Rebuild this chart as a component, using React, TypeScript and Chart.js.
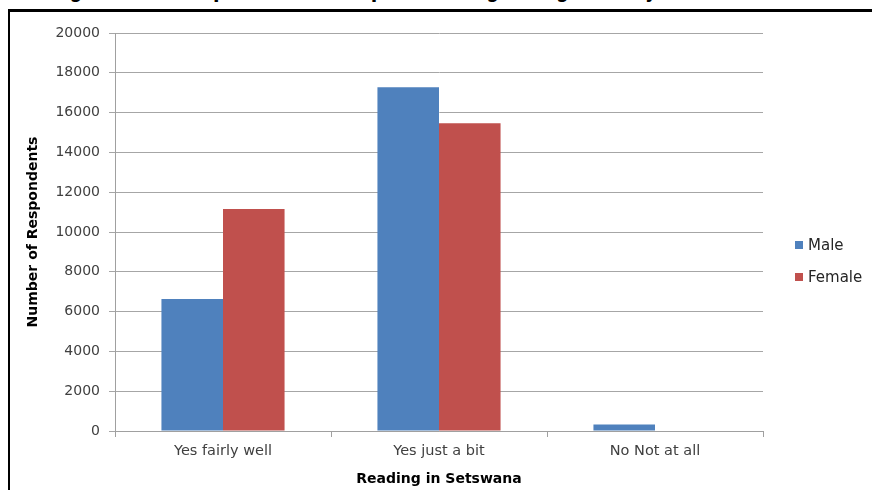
import React, { useEffect, useRef } from "react";
import { Chart, registerables } from "chart.js";

Chart.register(...registerables);

// Responses to "Reading in Setswana", split by sex
const categories = ["Yes fairly well", "Yes just a bit", "No Not at all"];
const maleValues = [6630, 17270, 330];
const femaleValues = [11160, 15460, 0];
const seriesNames = ["Male", "Female"];
const seriesColors = ["#4F81BD", "#C0504D"];
const yTicksMax = 20000;
const yTicksStep = 2000;
const figureTitle = "Figure 4.5: Respondents' competence regarding literacy in Setswana";

const FONT = "'DejaVu Sans', 'Liberation Sans', sans-serif";

export default function App() {
  const canvasRef = useRef<HTMLCanvasElement | null>(null);

  useEffect(() => {
    const canvas = canvasRef.current;
    if (!canvas) return;
    const chart = new Chart(canvas, {
      type: "bar",
      data: {
        labels: categories,
        datasets: [
          {
            label: seriesNames[0],
            data: maleValues,
            backgroundColor: seriesColors[0],
            borderWidth: 0,
            barPercentage: 1,
            categoryPercentage: 0.57,
          },
          {
            label: seriesNames[1],
            data: femaleValues,
            backgroundColor: seriesColors[1],
            borderWidth: 0,
            barPercentage: 1,
            categoryPercentage: 0.57,
          },
        ],
      },
      options: {
        responsive: false,
        animation: false,
        devicePixelRatio: 1,
        layout: { padding: { top: 33, right: 109, left: 0, bottom: 0 } },
        plugins: {
          legend: { display: false },
          title: { display: false },
          tooltip: { enabled: false },
        },
        scales: {
          x: {
            offset: true,
            grid: {
              offset: true,
              drawOnChartArea: false,
              drawTicks: true,
              tickLength: 6,
              color: "#a0a0a0",
            },
            border: { color: "#a0a0a0", width: 1 },
            ticks: {
              color: "#404040",
              font: { family: FONT, size: 14.5 },
              padding: 6,
              maxRotation: 0,
            },
            title: {
              display: true,
              text: "Reading in Setswana",
              color: "#000000",
              font: { family: FONT, size: 14, weight: "bold" },
              padding: { top: 0, bottom: 2 },
            },
            afterFit: (scale: any) => {
              scale.height = 59;
            },
          },
          y: {
            min: 0,
            max: yTicksMax,
            grid: {
              color: "#a6a6a6",
              tickLength: 6,
              drawTicks: true,
            },
            border: { color: "#a0a0a0", width: 1 },
            ticks: {
              stepSize: yTicksStep,
              color: "#404040",
              font: { family: FONT, size: 14 },
              padding: 9,
              callback: (value: any) => String(value),
            },
            title: {
              display: true,
              text: "Number of Respondents",
              color: "#000000",
              font: { family: FONT, size: 14, weight: "bold" },
              padding: { top: 25, bottom: 0 },
            },
            afterFit: (scale: any) => {
              scale.width = 115;
            },
          },
        },
      },
    });
    return () => chart.destroy();
  }, []);

  return (
    <div
      style={{
        position: "fixed",
        left: 0,
        top: 0,
        width: 872,
        height: 490,
        overflow: "hidden",
        background: "#ffffff",
      }}
    >
      <svg
        width={872}
        height={9}
        style={{ position: "absolute", left: 0, top: 0 }}
      >
        <text
          x={50}
          y={-4}
          textLength={745}
          lengthAdjust="spacingAndGlyphs"
          fontFamily={FONT}
          fontWeight="bold"
          fontSize={30}
          fill="#000000"
        >
          {figureTitle}
        </text>
      </svg>
      <div
        style={{
          position: "absolute",
          left: 8,
          top: 9,
          width: 900,
          height: 520,
          borderTop: "3px solid #000",
          borderLeft: "2px solid #000",
        }}
      />
      <canvas
        ref={canvasRef}
        width={872}
        height={490}
        style={{ position: "absolute", left: 0, top: 0 }}
      />
      {seriesNames.map((name, i) => (
        <div
          key={name}
          style={{
            position: "absolute",
            left: 795,
            top: 236 + i * 32,
            height: 18,
            display: "flex",
            alignItems: "center",
            fontFamily: FONT,
            fontSize: 15,
            color: "#262626",
            whiteSpace: "nowrap",
          }}
        >
          <span
            style={{
              display: "inline-block",
              width: 8,
              height: 8,
              background: seriesColors[i],
              marginRight: 5,
            }}
          />
          {name}
        </div>
      ))}
    </div>
  );
}
